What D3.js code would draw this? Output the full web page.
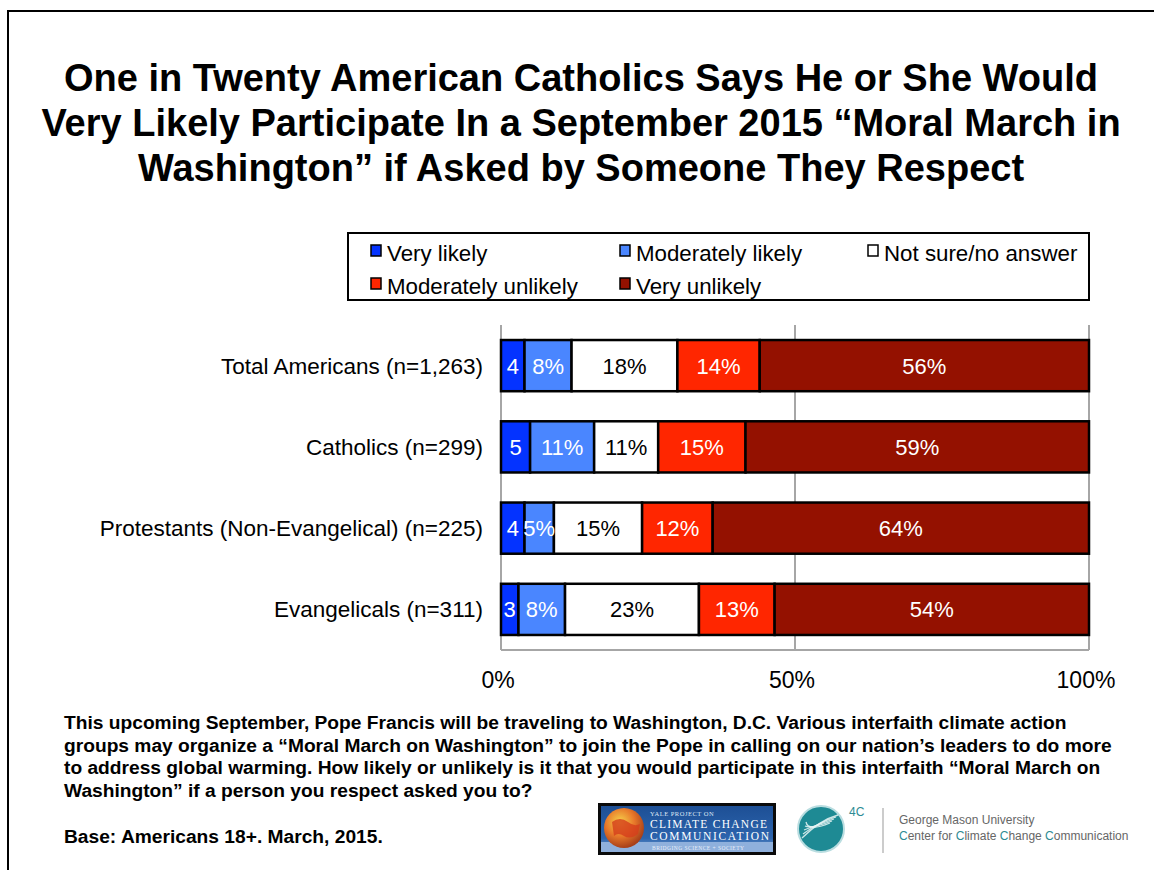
<!DOCTYPE html>
<html>
<head>
<meta charset="utf-8">
<script src="https://cdn.jsdelivr.net/npm/d3@7"></script>
<style>
  html, body { margin: 0; padding: 0; background: #fff; }
  svg { display: block; font-family: Arial, "Liberation Sans", Helvetica, sans-serif; }
</style>
</head>
<body>
<svg id="chart" width="1154" height="870"></svg>
<script>
// Survey groups (top to bottom)
const categories = [
  "Total Americans (n=1,263)",
  "Catholics (n=299)",
  "Protestants (Non-Evangelical) (n=225)",
  "Evangelicals (n=311)"
];
// Response options, in stacking order
const responses = ["Very likely", "Moderately likely", "Not sure/no answer", "Moderately unlikely", "Very unlikely"];
const responseColors = ["#0433FF", "#4A86FF", "#FFFFFF", "#FF2600", "#941100"];
const labelColors = ["#fff", "#fff", "#000", "#fff", "#fff"];

// Percent per response, one array per response option (ordered like categories)
const veryLikely         = [4, 5, 4, 3];
const moderatelyLikely   = [8, 11, 5, 8];
const notSure            = [18, 11, 15, 23];
const moderatelyUnlikely = [14, 15, 12, 13];
const veryUnlikely       = [56, 59, 64, 54];

const xTicks = [0, 50, 100];
const xTickLabels = ["0%", "50%", "100%"];

const title = [
  "One in Twenty American Catholics Says He or She Would",
  "Very Likely Participate In a September 2015 \u201cMoral March in",
  "Washington\u201d if Asked by Someone They Respect"
];
const question = [
  "This upcoming September, Pope Francis will be traveling to Washington, D.C. Various interfaith climate action",
  "groups may organize a \u201cMoral March on Washington\u201d to join the Pope in calling on our nation\u2019s leaders to do more",
  "to address global warming. How likely or unlikely is it that you would participate in this interfaith \u201cMoral March on",
  "Washington\u201d if a person you respect asked you to?"
];
const baseNote = "Base: Americans 18+. March, 2015.";

const seriesValues = [veryLikely, moderatelyLikely, notSure, moderatelyUnlikely, veryUnlikely];
const rows = categories.map((c, i) => {
  const r = { category: c };
  responses.forEach((k, j) => { r[k] = seriesValues[j][i]; });
  return r;
});

const svg = d3.select("#chart");

// Slide frame
svg.append("line").attr("x1", 8).attr("x2", 1154).attr("y1", 11).attr("y2", 11)
  .attr("stroke", "#000").attr("stroke-width", 2);
svg.append("line").attr("x1", 8).attr("x2", 8).attr("y1", 10).attr("y2", 870)
  .attr("stroke", "#000").attr("stroke-width", 2);

// Title
svg.append("g").selectAll("text").data(title).join("text")
  .attr("x", 581).attr("y", (d, i) => 91 + i * 45)
  .attr("text-anchor", "middle")
  .attr("font-size", 38).attr("font-weight", "bold").attr("fill", "#000")
  .text(d => d);

// Plot geometry
const plot = { left: 501, right: 1089, top: 325, bottom: 650 };
const x = d3.scaleLinear().domain([0, 100]).range([plot.left, plot.right]);
const y = d3.scaleBand().domain(categories).range([plot.top, plot.bottom]).paddingInner(0.37).paddingOuter(0.185);

// Grid (vertical lines at ticks) and baseline
const grid = svg.append("g");
grid.selectAll("line.v").data(xTicks).join("line").attr("class", "v")
  .attr("x1", d => x(d)).attr("x2", d => x(d))
  .attr("y1", plot.top).attr("y2", plot.bottom)
  .attr("stroke", "#a6a6a6").attr("stroke-width", 2);
grid.append("line")
  .attr("x1", x(0)).attr("x2", x(100)).attr("y1", plot.bottom).attr("y2", plot.bottom)
  .attr("stroke", "#a6a6a6").attr("stroke-width", 2);

// Stacked (normalised to 100%) bars
const stack = d3.stack().keys(responses).offset(d3.stackOffsetExpand);
const layers = stack(rows);

const layerG = svg.append("g").selectAll("g").data(layers).join("g")
  .attr("fill", (d, i) => responseColors[i]);

layerG.selectAll("rect").data(d => d).join("rect")
  .attr("x", d => x(d[0] * 100))
  .attr("y", d => y(d.data.category))
  .attr("width", d => x(d[1] * 100) - x(d[0] * 100))
  .attr("height", y.bandwidth())
  .attr("stroke", "#000").attr("stroke-width", 2.5);

// Segment value labels
layers.forEach((layer, li) => {
  svg.append("g").selectAll("text").data(layer).join("text")
    .attr("x", d => (x(d[0] * 100) + x(d[1] * 100)) / 2)
    .attr("y", d => y(d.data.category) + y.bandwidth() / 2 + 8)
    .attr("text-anchor", "middle")
    .attr("font-size", 22)
    .attr("fill", labelColors[li])
    .text(d => {
      const v = d.data[layer.key];
      return li === 0 ? String(v) : v + "%";
    });
});

// Category labels
svg.append("g").selectAll("text").data(categories).join("text")
  .attr("x", 483)
  .attr("y", d => y(d) + y.bandwidth() / 2 + 8)
  .attr("text-anchor", "end")
  .attr("font-size", 22.5).attr("fill", "#000")
  .text(d => d);

// X axis tick labels
svg.append("g").selectAll("text").data(xTicks).join("text")
  .attr("x", d => x(d) - 3)
  .attr("y", 688)
  .attr("text-anchor", "middle")
  .attr("font-size", 23).attr("fill", "#000")
  .text((d, i) => xTickLabels[i]);

// Legend
const legend = svg.append("g");
legend.append("rect").attr("x", 348).attr("y", 233).attr("width", 741).attr("height", 67)
  .attr("fill", "#fff").attr("stroke", "#000").attr("stroke-width", 2);
const legendPos = [
  [371, 253], [620, 253], [868, 253],
  [371, 286], [620, 286]
];
responses.forEach((r, i) => {
  const [lx, ly] = legendPos[i];
  legend.append("rect").attr("x", lx).attr("y", ly - 8).attr("width", 10).attr("height", 11)
    .attr("fill", responseColors[i]).attr("stroke", "#000").attr("stroke-width", 1.5);
  legend.append("text").attr("x", lx + 16).attr("y", ly + 8)
    .attr("font-size", 22.3).attr("fill", "#000").text(r);
});

// Question wording and base note
svg.append("g").selectAll("text").data(question).join("text")
  .attr("x", 64).attr("y", (d, i) => 729 + i * 22.5)
  .attr("font-size", 19.2).attr("font-weight", "bold").attr("fill", "#000")
  .text(d => d);
svg.append("text").attr("x", 64).attr("y", 843)
  .attr("font-size", 19.2).attr("font-weight", "bold").attr("fill", "#000")
  .text(baseNote);

// Yale Project on Climate Change Communication badge
const defs = svg.append("defs");
const bg = defs.append("linearGradient").attr("id", "yaleBg").attr("x1", 0).attr("y1", 0).attr("x2", 0).attr("y2", 1);
bg.append("stop").attr("offset", "0%").attr("stop-color", "#1d4f95");
bg.append("stop").attr("offset", "70%").attr("stop-color", "#2c64ad");
bg.append("stop").attr("offset", "100%").attr("stop-color", "#7ea6d8");
const globe = defs.append("radialGradient").attr("id", "yaleGlobe").attr("cx", "40%").attr("cy", "35%").attr("r", "65%");
globe.append("stop").attr("offset", "0%").attr("stop-color", "#f6d24a");
globe.append("stop").attr("offset", "55%").attr("stop-color", "#e8782a");
globe.append("stop").attr("offset", "100%").attr("stop-color", "#a8401a");

const yale = svg.append("g");
yale.append("rect").attr("x", 598).attr("y", 803).attr("width", 178).attr("height", 52)
  .attr("fill", "#0a0a0a");
yale.append("rect").attr("x", 601).attr("y", 806).attr("width", 172).attr("height", 46)
  .attr("fill", "url(#yaleBg)");
yale.append("rect").attr("x", 601).attr("y", 842).attr("width", 172).attr("height", 10)
  .attr("fill", "#8fb0dc");
yale.append("circle").attr("cx", 624).attr("cy", 828).attr("r", 20).attr("fill", "url(#yaleGlobe)");
yale.append("path").attr("d", "M612,822 q8,-6 16,0 q6,5 12,2 l-2,10 q-8,6 -14,2 q-6,-4 -10,0 z")
  .attr("fill", "#d43d1c").attr("opacity", 0.8);
yale.append("text").attr("x", 650).attr("y", 816).attr("font-family", "Liberation Serif, serif")
  .attr("font-size", 6.5).attr("fill", "#dfe8f5").attr("letter-spacing", 0.5).text("YALE PROJECT ON");
yale.append("text").attr("x", 650).attr("y", 828).attr("font-family", "Liberation Serif, serif")
  .attr("font-size", 11.5).attr("fill", "#fff").attr("textLength", 117).text("CLIMATE CHANGE");
yale.append("text").attr("x", 650).attr("y", 840).attr("font-family", "Liberation Serif, serif")
  .attr("font-size", 11.5).attr("fill", "#fff").attr("textLength", 119).text("COMMUNICATION");
yale.append("text").attr("x", 652).attr("y", 850).attr("font-family", "Liberation Serif, serif")
  .attr("font-size", 5.5).attr("fill", "#e8eef8").attr("textLength", 92).text("BRIDGING SCIENCE + SOCIETY");

// George Mason 4C mark
const fourC = svg.append("g");
fourC.append("circle").attr("cx", 821).attr("cy", 829).attr("r", 23)
  .attr("fill", "#1e8a94").attr("stroke", "#b9dde0").attr("stroke-width", 2);
[0, 1, 2, 3, 4].forEach(i => {
  fourC.append("path")
    .attr("d", `M${838 - i * 2},${815 + i * 2} Q${820 - i * 3},${820 + i * 3} ${802 + i},${838 - i * 4}`)
    .attr("fill", "none").attr("stroke", "#e8f4f5").attr("stroke-width", 1.3).attr("opacity", 0.85);
});
fourC.append("text").attr("x", 849).attr("y", 816).attr("font-size", 12).attr("fill", "#2d8b94").text("4C");
fourC.append("line").attr("x1", 883).attr("x2", 883).attr("y1", 808).attr("y2", 853)
  .attr("stroke", "#999").attr("stroke-width", 1);
fourC.append("text").attr("x", 899).attr("y", 824).attr("font-size", 12).attr("fill", "#666")
  .text("George Mason University");
const gmu = fourC.append("text").attr("x", 899).attr("y", 840).attr("font-size", 12).attr("fill", "#666");
[["C", true], ["enter for ", false], ["C", true], ["limate ", false], ["C", true], ["hange ", false], ["C", true], ["ommunication", false]]
  .forEach(([t, teal]) => gmu.append("tspan").attr("fill", teal ? "#2d8b94" : "#666").text(t));
</script>
</body>
</html>
